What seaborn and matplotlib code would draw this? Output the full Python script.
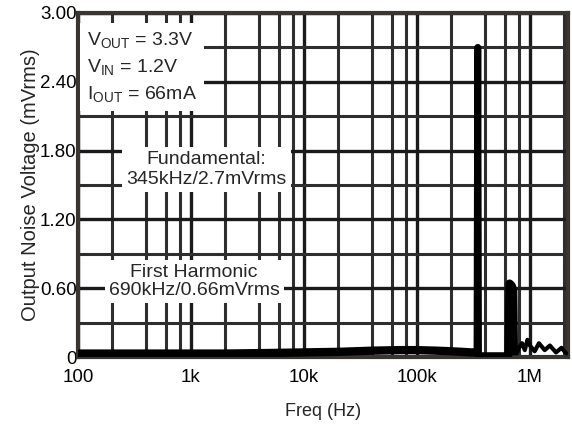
import numpy as np
import pandas as pd
import matplotlib
matplotlib.use("Agg")
import matplotlib.pyplot as plt
import seaborn as sns
from matplotlib.ticker import LogLocator, FixedLocator, FuncFormatter, NullFormatter

# ---- data ----
floor_freq = [100, 200, 500, 1e3, 2e3, 5e3, 1e4, 2e4, 4e4, 7e4, 1e5, 1.5e5, 2e5, 2.5e5, 3e5, 3.3e5]
floor_val = [0.03, 0.03, 0.03, 0.03, 0.03, 0.035, 0.04, 0.045, 0.055, 0.06, 0.06, 0.055, 0.05, 0.045, 0.04, 0.04]
fund_freq = [3.4e5, 3.45e5, 3.5e5]
fund_val = [0.03, 2.70, 0.03]
gap_freq = [3.5e5, 5e5, 6.45e5]
gap_val = [0.02, 0.02, 0.02]
harm_freq = [6.45e5, 6.6e5, 6.9e5, 7.1e5, 7.2e5]
harm_val = [0.02, 0.64, 0.62, 0.58, 0.05]
tail_freq = [7.2e5, 7.6e5, 8.0e5, 8.5e5, 9.0e5, 9.5e5, 1.0e6,
             1.1e6, 1.2e6, 1.35e6, 1.5e6, 1.7e6, 1.9e6, 2.1e6]
tail_val = [0.05, 0.03, 0.08, 0.12, 0.06, 0.15, 0.10,
            0.05, 0.12, 0.06, 0.10, 0.04, 0.08, 0.03]
y_ticks = [0, 0.6, 1.2, 1.8, 2.4, 3.0]
x_ticks = [1e2, 1e3, 1e4, 1e5, 1e6]
x_labels = ["100", "1k", "10k", "100k", "1M"]

sns.set_style("white")
plt.rcParams["font.family"] = ["Liberation Sans", "DejaVu Sans"]
plt.rcParams["mathtext.fontset"] = "custom"
plt.rcParams["mathtext.rm"] = "Liberation Sans"
plt.rcParams["mathtext.it"] = "Liberation Sans"

fig = plt.figure(figsize=(5.72, 4.24), dpi=100)
ax = fig.add_axes([78/572, 1 - 357/424, 490/572, 344/424])

for fx, vy, lw in [(floor_freq, floor_val, 6), (fund_freq, fund_val, 5),
                   (gap_freq, gap_val, 4), (harm_freq, harm_val, 6),
                   (tail_freq, tail_val, 3)]:
    d = pd.DataFrame({"f": fx, "v": vy})
    sns.lineplot(data=d, x="f", y="v", ax=ax, color="black", lw=lw, zorder=5)

ax.set_xscale("log")
ax.set_xlim(100, 2.17e6)
ax.set_ylim(0, 3.0)

ax.xaxis.set_major_locator(FixedLocator(x_ticks))
ax.set_xticklabels(x_labels)
ax.xaxis.set_minor_locator(LogLocator(base=10, subs=[2, 4, 6, 8]))
ax.xaxis.set_minor_formatter(NullFormatter())
ax.yaxis.set_major_locator(FixedLocator(y_ticks))
ax.yaxis.set_minor_locator(FixedLocator([0.3, 0.9, 1.5, 2.1, 2.7]))
ax.yaxis.set_major_formatter(FuncFormatter(lambda v, p: "0" if v == 0 else f"{v:.2f}"))

ax.grid(which="major", color="#1a1a1a", lw=2.4, zorder=1)
ax.grid(which="minor", color="#2e2e2e", lw=2.2, zorder=1)
ax.set_axisbelow(True)
ax.tick_params(which="both", length=0, labelsize=13.5, colors="black")
ax.tick_params(axis="x", pad=9)
ax.tick_params(axis="y", pad=1)
for s in ax.spines.values():
    s.set_color("#3b3531")
    s.set_linewidth(3)

ax.set_xlabel("Freq (Hz)", fontsize=13, labelpad=12)
ax.set_ylabel("Output Noise Voltage (mVrms)", fontsize=14.5, labelpad=0)

box = dict(facecolor="white", edgecolor="none", pad=3)
ax.text(0.018, 0.95, "V$_{\\mathrm{OUT}}$ = 3.3V\nV$_{\\mathrm{IN}}$ = 1.2V\nI$_{\\mathrm{OUT}}$ = 66mA",
        transform=ax.transAxes, ha="left", va="top", fontsize=14, linespacing=1.45,
        bbox=dict(facecolor="white", edgecolor="none", pad=5), zorder=6)
ax.text(0.262, 0.545, "Fundamental:\n345kHz/2.7mVrms", transform=ax.transAxes,
        ha="center", va="center", fontsize=14, linespacing=1.25, bbox=box, zorder=6)
ax.text(0.237, 0.22, "First Harmonic\n690kHz/0.66mVrms", transform=ax.transAxes,
        ha="center", va="center", fontsize=14, linespacing=1.05, bbox=box, zorder=6)

fig.savefig("out.png", dpi=100)
